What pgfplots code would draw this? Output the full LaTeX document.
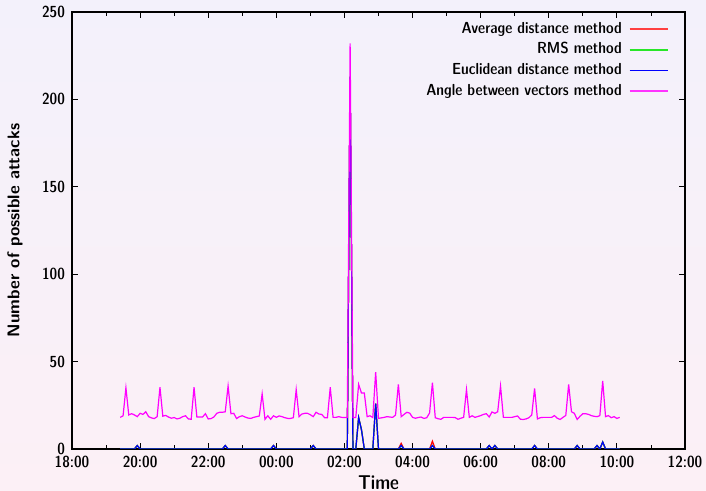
\documentclass[border=0pt]{standalone}
\usepackage{pgfplots}
\pgfplotsset{compat=1.18}
\usepackage{pgfplotstable}
\usetikzlibrary{backgrounds}
\definecolor{bgtop}{RGB}{243,241,251}
\definecolor{bgbot}{RGB}{252,240,246}
\definecolor{cred}{RGB}{255,0,0}
\definecolor{cgreen}{RGB}{0,220,0}
\definecolor{cblue}{RGB}{0,0,255}
\definecolor{cmag}{RGB}{255,0,255}
\definecolor{lgreen}{RGB}{40,230,40}
\newcommand\cf{\fontsize{8}{9.6}\sffamily\fontseries{sbc}\selectfont}

\pgfplotstableread{
t ang
85 18.1
90 19
95 35
100 19.5
105 20.2
110 19.5
115 18.5
120 20.4
125 19.8
130 21.3
135 18.5
140 17.8
145 17.4
150 18.5
155 35.3
160 18.8
165 19.2
170 18.3
175 17.6
180 18
185 17.2
190 17.6
195 18.5
200 19
205 17.2
210 17
215 35.3
220 18.3
225 18.3
230 18.3
235 20.2
240 17.2
245 17.4
250 18.3
255 20.4
260 21
265 21
270 21.3
275 36
280 20.2
285 20.4
290 17.4
295 18.5
300 19
305 18.3
310 17.7
315 17.5
320 18.1
325 18.5
330 18.9
335 31.5
340 17
345 19
350 17
355 19
360 18.1
365 18.9
370 18.5
375 17.9
380 17.5
385 17.5
390 17.9
395 34
400 18.5
405 20
410 20.4
415 20.4
420 19.6
425 18.5
430 21
435 20
440 19.8
445 17.9
450 17.9
455 35.3
460 18.1
465 18.1
470 18.5
475 18.1
480 18
485 18
490 232
495 18
500 18
505 37
510 32
515 32
520 18.5
525 19
530 18
535 44
540 17.5
545 17.8
550 18.1
555 18.5
560 18.3
565 18.1
570 19.4
575 37
580 18.5
585 19.8
590 21
595 20.5
600 18.1
605 17.6
610 18
615 18.3
620 17.5
625 17.9
630 20.6
635 38
640 17.9
645 17.3
650 17
655 18.1
660 18.1
665 18.1
670 18.1
675 18
680 17
685 17.6
690 18.1
695 34
700 18.1
705 19
710 18.1
715 18.6
720 19.1
725 19.8
730 20.2
735 18.3
740 21.2
745 20.4
750 21.3
755 36
760 18.1
765 18.1
770 18.1
775 18.1
780 18.5
785 18.9
790 17
795 16.9
800 17.2
805 17.9
810 19.5
815 34.7
820 17.2
825 17.9
830 18.1
835 18.1
840 18.1
845 18.1
850 19.1
855 17.6
860 16.9
865 18.1
870 19.2
875 37
880 21.3
885 20.4
890 16.9
895 18.7
900 20.2
905 20.2
910 19.8
915 19.1
920 18.7
925 18.5
930 19.1
935 39
940 18.5
945 19.1
950 17.9
955 18.5
960 17.5
965 18.1
}\angtable

\pgfplotstableread{
t euc
85 0
110 0
115 2
120 0
265 0
270 2
275 0
350 0
355 2
360 0
420 0
425 2
430 0
485 0
490 213
495 0
500 0
505 18
510 11
515 0
530 0
535 26
540 0
575 0
580 2
585 0
630 0
635 2
640 0
730 0
735 2
740 0
745 2
750 0
810 0
815 2
820 0
885 0
890 2
895 0
920 0
925 2
930 0
935 4
940 0
965 0
}\euctable

\pgfplotstableread{
t avg
85 0
110 0
115 2
120 0
265 0
270 2
275 0
350 0
355 2
360 0
420 0
425 2
430 0
485 0
490 213
495 0
500 0
505 18
510 11
515 0
530 0
535 26
540 0
575 0
580 3.2
585 0
630 0
635 4.5
640 0
730 0
735 2
740 0
745 2
750 0
810 0
815 2
820 0
885 0
890 2
895 0
920 0
925 2
930 0
935 4
940 0
965 0
}\avgtable

\begin{document}
\begin{tikzpicture}
\begin{axis}[
  scale only axis,
  width=306.5pt, height=218.5pt,
  xmin=0, xmax=1080, ymin=0, ymax=250,
  xtick={0,120,...,1080},
  xticklabels={18:00,20:00,22:00,00:00,02:00,04:00,06:00,08:00,10:00,12:00},
  minor xtick={60,180,...,1020},
  ytick={0,50,...,250},
  yticklabels={0,50,100,150,200,250},
  tick align=inside,
  major tick length=3pt,
  minor tick length=2pt,
  every tick/.style={black, line width=0.4pt},
  axis line style={line width=0.6pt},
  ticklabel style={font=\cf},
  xlabel={Time},
  ylabel={Number of possible attacks},
  xlabel style={font=\fontsize{10}{12}\sffamily\fontseries{sbc}\selectfont, at={(axis description cs:0.5,-0.078)}, anchor=center},
  ylabel style={font=\fontsize{8.5}{10}\sffamily\bfseries\selectfont, at={(axis description cs:-0.093,0.5)}, anchor=center, rotate=0},
  legend plot pos=right,
  legend cell align=right,
  legend style={draw=none, fill=none, font=\cf, at={(rel axis cs:1,1)}, anchor=north east, xshift=-8pt, yshift=-4pt,
    inner sep=0pt, row sep=1.5pt,
    nodes={inner sep=0.5pt, text height=6pt, text depth=1.8pt},
    /tikz/every odd column/.style={column sep=3pt}},
  clip=true,
]
\addplot[cred, line width=0.6pt, forget plot] table[x=t, y=avg] {\avgtable};
\addplot[cgreen, line width=0.6pt, forget plot] table[x=t, y=euc] {\euctable};
\addplot[cblue, line width=0.6pt, forget plot] table[x=t, y=euc] {\euctable};
\addplot[cmag, line width=0.6pt, forget plot] table[x=t, y=ang] {\angtable};
\addlegendimage{legend image code/.code={\draw[cred!75!white, line width=0.9pt] (0pt,0pt) -- (19pt,0pt);}}
\addlegendentry{Average distance method}
\addlegendimage{legend image code/.code={\draw[lgreen, line width=0.9pt] (0pt,0pt) -- (19pt,0pt);}}
\addlegendentry{RMS method}
\addlegendimage{legend image code/.code={\draw[cblue, line width=0.8pt] (0pt,0pt) -- (19pt,0pt);}}
\addlegendentry{Euclidean distance method}
\addlegendimage{legend image code/.code={\draw[cmag!80!white, line width=0.9pt] (0pt,0pt) -- (19pt,0pt);}}
\addlegendentry{Angle between vectors method}
\coordinate (BL) at ([xshift=-36pt,yshift=-21pt]rel axis cs:0,0);
\coordinate (TR) at ([xshift=10.5pt,yshift=6pt]rel axis cs:1,1);
\end{axis}
\pgfresetboundingbox
\path[use as bounding box] (BL) rectangle (TR);
\begin{pgfonlayer}{background}
\shade[top color=bgtop, bottom color=bgbot] (BL) rectangle (TR);
\end{pgfonlayer}
\end{tikzpicture}
\end{document}
